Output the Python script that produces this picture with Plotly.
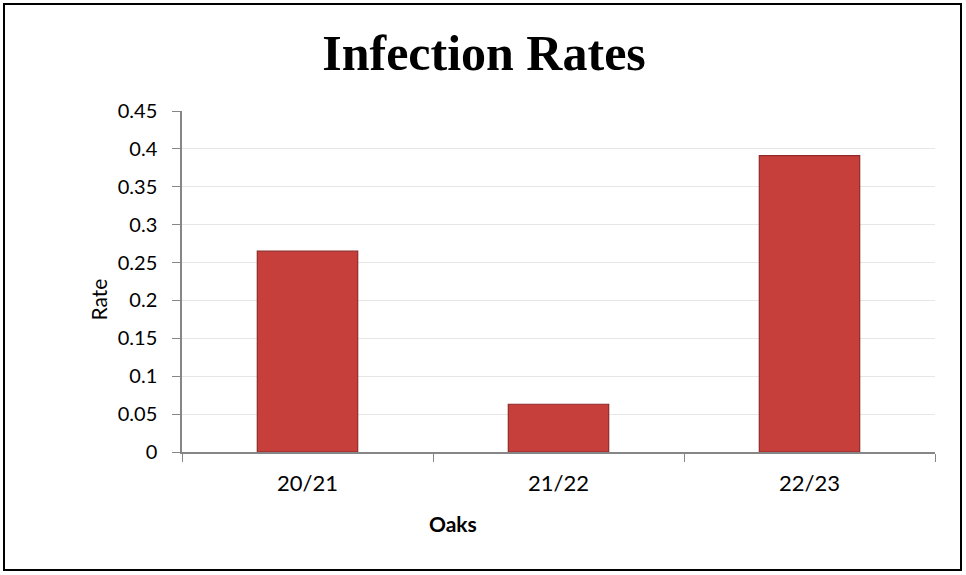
import plotly.graph_objects as go

seasons = ["20/21", "21/22", "22/23"]
rates = [0.265, 0.063, 0.391]
y_ticks = [0, 0.05, 0.1, 0.15, 0.2, 0.25, 0.3, 0.35, 0.4, 0.45]
y_tick_labels = ["0", "0.05", "0.1", "0.15", "0.2", "0.25", "0.3", "0.35", "0.4", "0.45"]

W, H = 966, 575
L, R, T, B = 182, 31, 111, 123
pw, ph = W - L - R, H - T - B


def px_x(px):
    return (px - L) / pw


def px_y(py):
    return (H - B - py) / ph


fig = go.Figure()

fig.add_trace(go.Bar(
    x=seasons,
    y=rates,
    width=0.4,
    marker=dict(color="#c73f3b", line=dict(color="#8e2b29", width=1.2)),
    hoverinfo="x+y",
))

# Chart border
fig.add_shape(
    type="rect", xref="paper", yref="paper",
    x0=px_x(4), x1=px_x(961), y0=px_y(570), y1=px_y(4),
    line=dict(color="#000000", width=2), layer="above",
)

# axis titles
fig.add_annotation(
    text="Rate", xref="paper", yref="paper",
    x=px_x(83), y=px_y(300), textangle=-90, showarrow=False,
    font=dict(family="Lato, Noto Sans, sans-serif", size=21, color="#000000"),
)
fig.add_annotation(
    text="<b>Oaks</b>", xref="paper", yref="paper",
    x=px_x(453), y=px_y(538), showarrow=False,
    font=dict(family="Lato, Noto Sans, sans-serif", size=21, color="#000000"),
)

fig.update_layout(
    width=W, height=H,
    margin=dict(l=L, r=R, t=T, b=B),
    paper_bgcolor="#ffffff",
    plot_bgcolor="#ffffff",
    showlegend=False,
    bargap=0.6,
    title=dict(
        text="<b>Infection Rates</b>",
        x=484 / W, xanchor="center",
        y=1 - 52 / H, yref="container", yanchor="middle",
        font=dict(family="Liberation Serif, DejaVu Serif, serif", size=50, color="#000000"),
    ),
    xaxis=dict(
        type="category",
        tickson="boundaries",
        ticks="outside", ticklen=8, tickcolor="#868686", tickwidth=1,
        showline=True, linecolor="#868686", linewidth=1.5,
        showgrid=False,
        ticklabelstandoff=11,
        tickfont=dict(family="Lato, Noto Sans, sans-serif", size=22, color="#000000"),
    ),
    yaxis=dict(
        range=[0, 0.45],
        tickvals=y_ticks, ticktext=y_tick_labels,
        ticks="outside", ticklen=8, tickcolor="#868686", tickwidth=1,
        showline=True, linecolor="#868686", linewidth=1.5,
        showgrid=True, gridcolor="#e6e6e6", gridwidth=1.2,
        zeroline=False,
        ticklabelstandoff=11,
        tickfont=dict(family="Lato, Noto Sans, sans-serif", size=20, color="#000000"),
    ),
)

# drop the default 8px body margin so the figure sits at the page corner
fig.write_html(
    "out.html",
    config={"displayModeBar": False},
    post_script="document.body.style.margin='0px';",
)
